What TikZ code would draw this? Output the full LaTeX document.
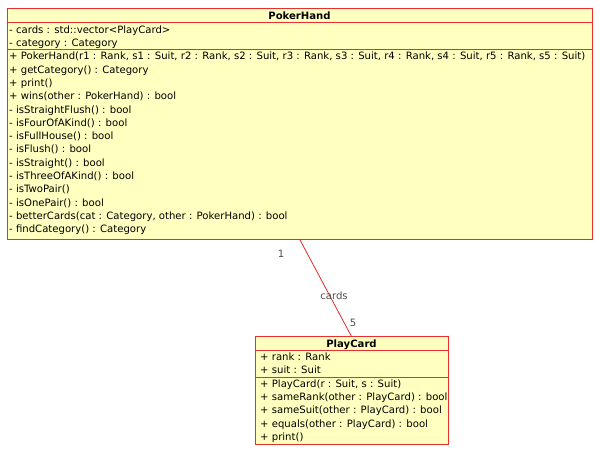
\documentclass[tikz,border=0pt]{standalone}
\usepackage{fontspec}
\setmainfont{DejaVu Sans}
\definecolor{umlfill}{RGB}{255,255,192}
\definecolor{umlline}{RGB}{235,45,45}
\definecolor{lblgray}{RGB}{80,80,80}
\begin{document}
\begin{tikzpicture}[x=1pt,y=-1pt,
  umlbox/.style={draw=umlline,fill=umlfill,line width=1pt,inner sep=0pt,outer sep=0pt,rectangle},
  sepline/.style={draw=umlline,line width=1pt},
  assoc/.style={draw=umlline,line width=0.8pt},
  member/.style={anchor=base west,inner sep=0pt,font=\fontsize{10.1}{12}\selectfont},
  ctitle/.style={anchor=base,inner sep=0pt,font=\fontsize{10.1}{12}\selectfont\bfseries},
  endlbl/.style={inner sep=0pt,text=lblgray,font=\fontsize{10.1}{12}\selectfont}]
\useasboundingbox[fill=white] (0,0) rectangle (600,455);
% PokerHand
\node[umlbox,minimum width=585pt,minimum height=231pt] (ph) at (299.5,123.5) {};
\draw[sepline] (ph.west |- 0,22) -- (ph.east |- 0,22);
\draw[sepline] (ph.west |- 0,49) -- (ph.east |- 0,49);
\node[ctitle] (phT) at (299.5,19.3) {PokerHand};
\node[member] (pa1) at (9,33) {- cards : std::vector<PlayCard>};
\node[member] (pa2) at (9,46.3) {- category : Category};
\node[member] (pm1) at (9,59.8) {+ PokerHand(r1 : Rank, s1 : Suit, r2 : Rank, s2 : Suit, r3 : Rank, s3 : Suit, r4 : Rank, s4 : Suit, r5 : Rank, s5 : Suit)};
\node[member] (pm2) at (9,73.1) {+ getCategory() : Category};
\node[member] (pm3) at (9,86.4) {+ print()};
\node[member] (pm4) at (9,99.7) {+ wins(other : PokerHand) : bool};
\node[member] (pm5) at (9,113.0) {- isStraightFlush() : bool};
\node[member] (pm6) at (9,126.3) {- isFourOfAKind() : bool};
\node[member] (pm7) at (9,139.6) {- isFullHouse() : bool};
\node[member] (pm8) at (9,152.9) {- isFlush() : bool};
\node[member] (pm9) at (9,166.2) {- isStraight() : bool};
\node[member] (pm10) at (9,179.5) {- isThreeOfAKind() : bool};
\node[member] (pm11) at (9,192.8) {- isTwoPair()};
\node[member] (pm12) at (9,206.1) {- isOnePair() : bool};
\node[member] (pm13) at (9,219.4) {- betterCards(cat : Category, other : PokerHand) : bool};
\node[member] (pm14) at (9,232.7) {- findCategory() : Category};
% PlayCard
\node[umlbox,minimum width=193pt,minimum height=107.5pt] (pc) at (351.5,390.25) {};
\draw[sepline] (pc.west |- 0,350) -- (pc.east |- 0,350);
\draw[sepline] (pc.west |- 0,377.5) -- (pc.east |- 0,377.5);
\node[ctitle] (pcT) at (351.5,347) {PlayCard};
\node[member] (ca1) at (260,360.4) {+ rank : Rank};
\node[member] (ca2) at (260,373.7) {+ suit : Suit};
\node[member] (cm1) at (260,387.1) {+ PlayCard(r : Suit, s : Suit)};
\node[member] (cm2) at (260,400.4) {+ sameRank(other : PlayCard) : bool};
\node[member] (cm3) at (260,413.7) {+ sameSuit(other : PlayCard) : bool};
\node[member] (cm4) at (260,427.0) {+ equals(other : PlayCard) : bool};
\node[member] (cm5) at (260,440.3) {+ print()};
% association
\draw[assoc] (ph.south) -- (pc.north);
\node[endlbl] (m1) at (281,254) {1};
\node[endlbl] (rl) at (334,296) {cards};
\node[endlbl] (m5) at (353,323) {5};
\end{tikzpicture}
\end{document}
